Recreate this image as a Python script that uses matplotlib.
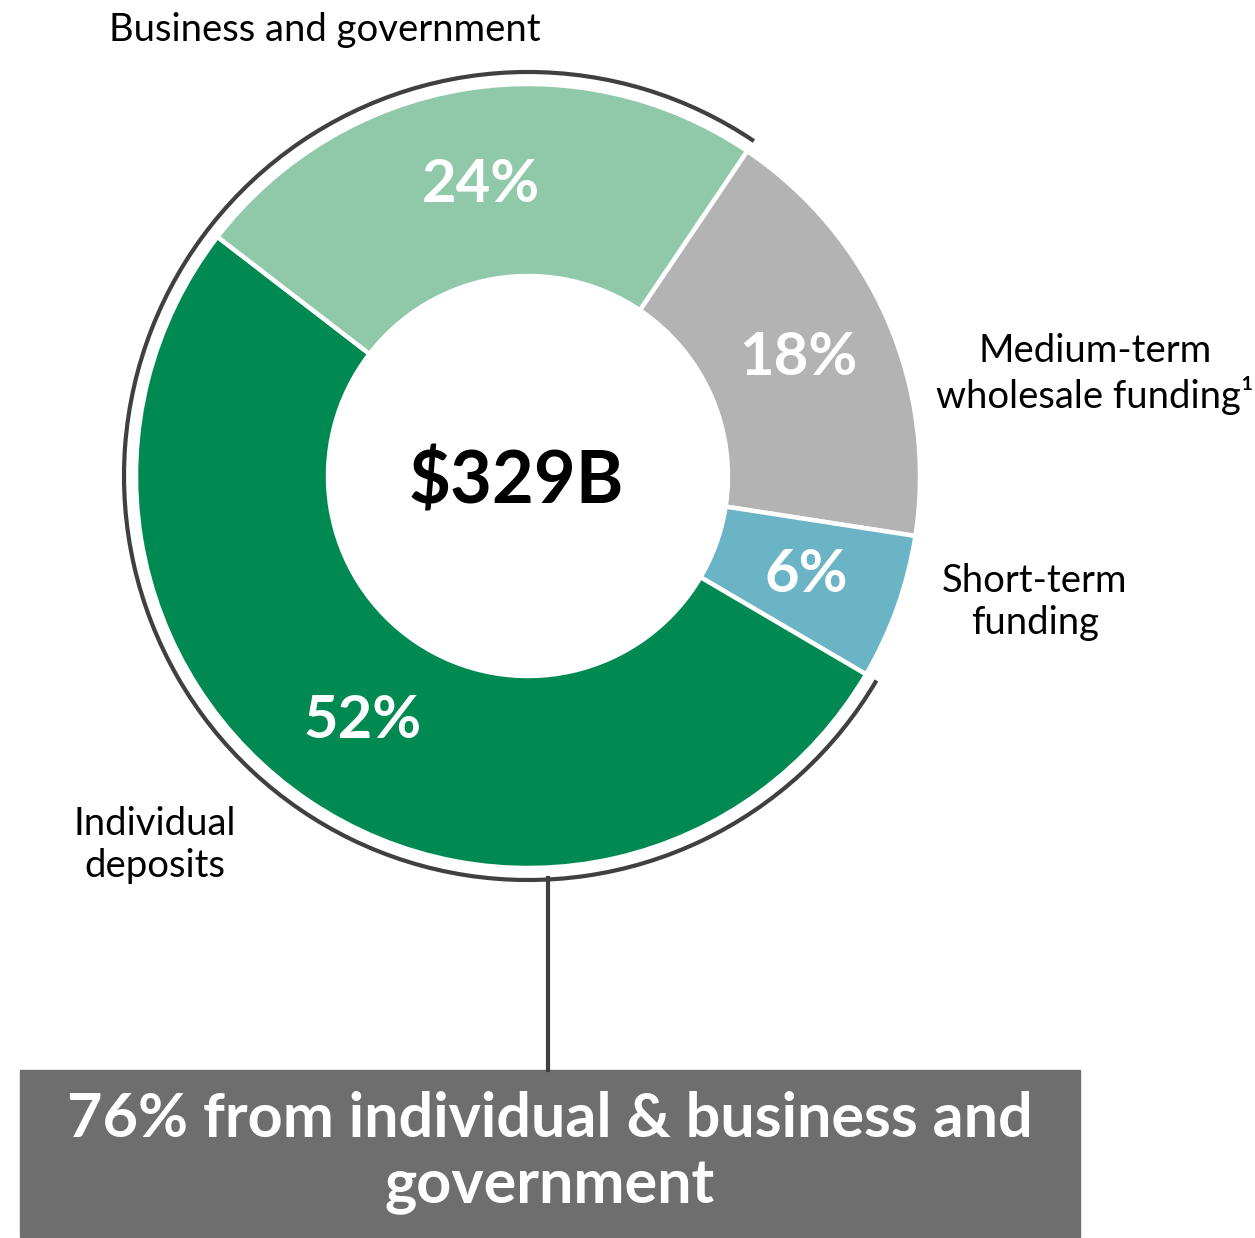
import matplotlib.pyplot as plt
from matplotlib.patches import Arc, Rectangle

plt.rcParams['font.family'] = ['Lato', 'DejaVu Sans']

# funding mix, clockwise from the top-right
labels = ['Medium-term\nwholesale funding\u00b9', 'Short-term\nfunding',
          'Individual\ndeposits', 'Business and government']
shares = [18, 6, 52, 24]
colors = ['#b3b3b3', '#6bb4c6', '#008a52', '#90c9a9']
total = '$329B'
callout = '76% from individual & business and\ngovernment'

W, H = 1255, 1238
fig = plt.figure(figsize=(W / 100, H / 100), dpi=100)
ax = fig.add_axes([0, 0, 1, 1])

cx, cy, R = 528, H - 476, 392

wedges, texts, autotexts = ax.pie(
    shares, colors=colors, startangle=56, counterclock=False,
    center=(cx, cy), radius=R, autopct='%d%%', pctdistance=0.753,
    wedgeprops=dict(width=R - 200, edgecolor='white', linewidth=3.2),
    textprops=dict(color='white', fontsize=43, fontweight='bold'))

# outline around the individual + business slices
start = 56
span = (shares[2] + shares[3]) * 3.6
ax.add_patch(Arc((cx, cy), 2 * 404, 2 * 404, theta1=start, theta2=start + span,
                 color='#404040', lw=3))

ax.text(cx - 12, H - 483, total, ha='center', va='center',
        fontsize=52, fontweight='bold', color='black')

lab_kw = dict(ha='center', va='center', fontsize=27.5, color='black', linespacing=1.22)
ax.text(1095, H - 374, labels[0], **lab_kw)
ax.text(1035, H - 602, labels[1], **lab_kw)
ax.text(155, H - 845, labels[2], **lab_kw)
ax.text(325, H - 30, labels[3], **lab_kw)

# connector and callout box
ax.plot([548, 548], [H - 878, H - 1070], color='#404040', lw=3)
ax.add_patch(Rectangle((20, H - 1237), 1060, 167, color='#6e6e6e'))
ax.text(550, H - 1153, callout, ha='center', va='center', fontsize=44,
        fontweight='bold', color='white', linespacing=1.24)

ax.set_xlim(0, W)
ax.set_ylim(0, H)
ax.axis('off')
fig.savefig('out.png', dpi=100)
